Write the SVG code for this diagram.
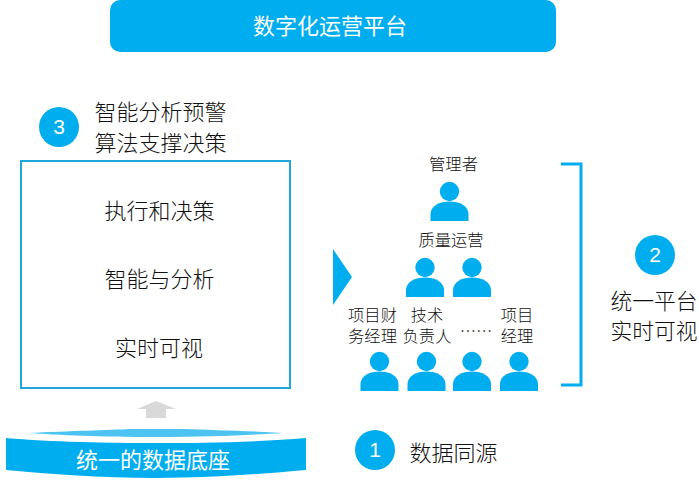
<svg xmlns="http://www.w3.org/2000/svg" width="699" height="484" viewBox="0 0 699 484">
<style>
text{font-family:"Noto Sans CJK SC","Liberation Sans",sans-serif;fill:#111;text-anchor:middle;font-weight:300}
.w{fill:#fff;font-weight:400}
.n{font-family:"Liberation Sans",sans-serif;fill:#fff;font-size:21px}
.l{font-size:22px}
.m{font-size:16.300px}
.t{font-family:"Liberation Sans","Noto Sans CJK SC",sans-serif}
.c{fill:#00aeef}
.s{fill:none;stroke:#00aeef}
</style>
<defs>
<g id="p" class="c">
<circle cx="0" cy="-29.500" r="9.700"/>
<path d="M-19 0V-7C-19 -15 -10 -19.500 0 -19.500C10 -19.500 19 -15 19 -7V0Z"/>
</g>
</defs>
<rect width="699" height="484" fill="#fff"/>
<g id="platform"><rect x="110" y="0" width="446" height="52" rx="10" class="c"/><text x="330" y="34" class="w" font-size="22">数字化运营平台</text></g>
<g id="step3"><circle cx="59" cy="127" r="20" class="c"/><text x="59" y="134" class="n">3</text>
<text class="l"><tspan x="160.500" y="120">智能分析预警</tspan><tspan x="160.500" y="150.500">算法支撑决策</tspan></text></g>
<g id="box"><rect x="21" y="161" width="269" height="227" fill="#fff" stroke="#1ea7dc" stroke-width="2"/>
<text x="159.500" y="219" class="l">执行和决策</text><text x="159.500" y="287" class="l">智能与分析</text><text x="159" y="356" class="l">实时可视</text></g>
<g id="base"><path d="M28 433C70 431 110 430 130 429H183C210 430 250 431 283 433C250 435 210 437 156 437C100 437 60 435 28 433Z" fill="#4cc3f1"/>
<path d="M6 438C50 442 110 443 156 443C200 443 262 442 306 438V470C262 474 210 478 156 478C100 478 50 474 6 470Z" class="c"/>
<text x="153" y="467.500" class="w" font-size="22">统一的数据底座</text></g>
<g id="step1"><circle cx="375" cy="450" r="20" class="c"/><text x="375" y="457" class="n">1</text><text x="453.500" y="460.500" class="l">数据同源</text></g>
<g id="step2"><circle cx="655" cy="255" r="20" class="c"/><text x="655" y="262" class="n">2</text>
<text font-size="21.800"><tspan x="654" y="309">统一平台</tspan><tspan x="654" y="339">实时可视</tspan></text></g>
<g id="manager"><text x="453.500" y="170" class="m">管理者</text><use href="#p" x="449.500" y="221"/></g>
<g id="quality"><text x="451" y="246" class="m">质量运营</text><use href="#p" x="425" y="297"/><use href="#p" x="472" y="297"/></g>
<g id="finance"><text class="m t"><tspan x="372.500" y="321">项目财</tspan><tspan x="372.500" y="342">务经理</tspan></text><use href="#p" x="379.500" y="391"/></g>
<g id="tech"><text class="m t"><tspan x="427" y="321">技术</tspan><tspan x="427" y="342">负责人</tspan></text><use href="#p" x="426.500" y="391"/></g>
<g id="others"><text x="476" y="337" class="m">……</text><use href="#p" x="472" y="391"/></g>
<g id="pm"><text class="m t"><tspan x="517" y="321">项目</tspan><tspan x="517" y="342">经理</tspan></text><use href="#p" x="519" y="391"/></g>
<g id="connectors">
<path d="M333 249L352 277L333 305Z" class="c"/>
<path d="M561 164H581V385H561" class="s" stroke-width="3"/>
<path d="M156 401L176 409H166V418H146V409H137Z" fill="#d9d9d9"/>
</g>
</svg>
